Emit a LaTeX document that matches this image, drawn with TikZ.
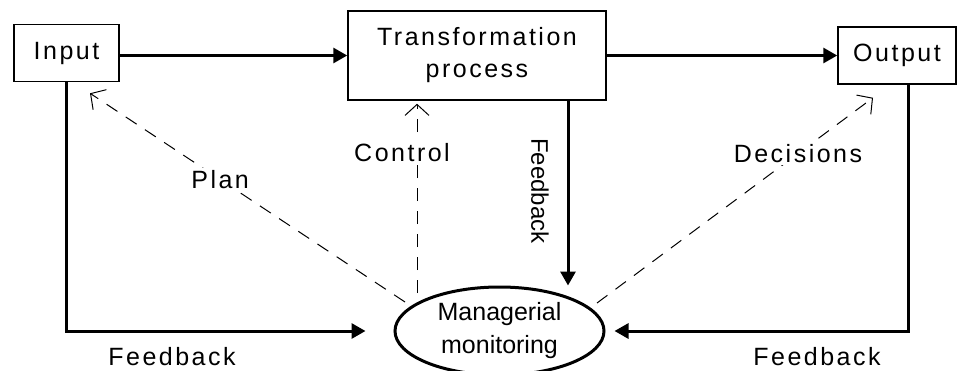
\documentclass[tikz,border=0pt]{standalone}
\usepackage{fontspec}
\setmainfont{Liberation Sans}
\newfontfamily\spacedfont[LetterSpace=10]{Liberation Sans}
\usetikzlibrary{arrows.meta,calc,shapes.geometric}

\begin{document}
\begin{tikzpicture}[x=1pt,y=1pt,
  box/.style={draw, line width=1.5pt, inner sep=0pt, align=center,
    font=\spacedfont\fontsize{25}{32}\selectfont},
  flow/.style={line width=3pt, -{Triangle[length=14pt,width=15pt]}},
  guide/.style={line width=1pt, dash pattern=on 13pt off 10pt,
    -{Straight Barb[length=11pt,width=24pt,line width=1pt]}},
  lbl/.style={fill=white, inner sep=2pt, font=\spacedfont\fontsize{25}{30}\selectfont},
  plain/.style={inner sep=0pt, font=\spacedfont\fontsize{25}{30}\selectfont},
]
\useasboundingbox (0,0) rectangle (957,-370);
\clip (0,0) rectangle (957,-370);

% blocks of the process chain
\node[box, minimum width=105pt, minimum height=57pt] (in) at (66.5,-53) {Input};
\node[box, minimum width=258pt, minimum height=89pt] (tp) at (477,-55.5) {Transformation\\process};
\node[box, minimum width=118pt, minimum height=57pt] (out) at (897,-55.5) {Output};
\node[draw, ellipse, line width=3pt, minimum width=209pt, minimum height=88pt,
  inner sep=0pt, align=center, font=\fontsize{25}{33}\selectfont] (mm) at (499.5,-331) {Managerial\\monitoring};

% main flow
\draw[flow] (tp.west -| in.east) -- (tp.west);
\draw[flow] (tp.east) -- (tp.east -| out.west);

% feedback from the transformation process
\coordinate (fbtop) at ($(tp.south)+(91,0)$);
\draw[flow] (fbtop) -- (fbtop |- mm.north);
\node[inner sep=0pt, rotate=-90, font=\fontsize{24}{28}\selectfont] (fbv) at ($(fbtop)+(-28,-90)$) {Feedback};

% feedback loops from input and output
\draw[flow, shorten >=28pt] (in.south) |- (mm.west);
\draw[flow, shorten >=9pt] ($(out.south)+(11,0)$) |- (mm.east);
\node[plain] (fbl) at (172,-357) {Feedback};
\node[plain] (fbr) at (817,-357) {Feedback};

% management actions
\coordinate (planA) at ($(mm.center)+(-94.5,29)$);
\coordinate (planB) at ($(in.south)+(23.5,-11)$);
\draw[guide] (planA) -- node[lbl, pos=0.587] {Plan} (planB);

\coordinate (ctlA) at ($(mm.center)+(-82.5,38)$);
\coordinate (ctlB) at ($(tp.south)+(-60,-3)$);
\draw[guide] (ctlA) -- node[lbl, pos=0.742, xshift=-15pt] {Control} (ctlB);

\coordinate (decA) at ($(mm.center)+(97.5,28)$);
\coordinate (decB) at ($(out.south)+(-24,-13)$);
\draw[guide] (decA) -- node[lbl, pos=0.728] {Decisions} (decB);
\end{tikzpicture}
\end{document}
